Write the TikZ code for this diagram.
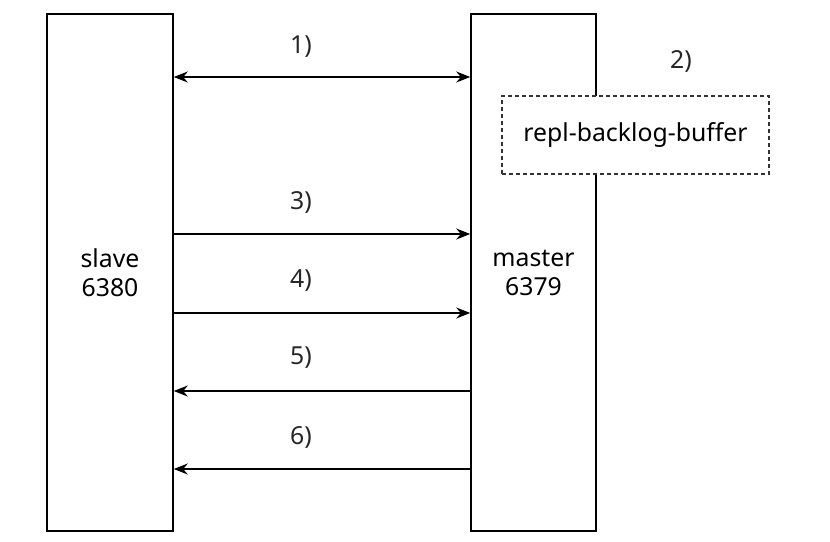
\documentclass[tikz,border=0pt]{standalone}
\usepackage{fontspec}
\setmainfont{Noto Sans}
\usetikzlibrary{arrows.meta}
\begin{document}
\begin{tikzpicture}[x=0.5pt,y=-0.5pt,
  box/.style={draw=black,line width=0.75pt,fill=white,inner sep=0pt},
  buf/.style={draw=black!80,line width=0.75pt,fill=white,inner sep=0pt,dash pattern=on 2pt off 1.5pt},
  msg/.style={line width=0.75pt,-{Stealth[length=7pt,width=5.5pt]}},
  lbl/.style={inner sep=0pt,text=black!85},
  every node/.style={font=\fontsize{12.4pt}{14.5pt}\selectfont}]
\useasboundingbox (0,0) rectangle (830,541);
\node[box,minimum width=63pt,minimum height=258.5pt,align=center] (slave) at (110,272.5) {slave\\6380};
\node[box,minimum width=62.5pt,minimum height=258.5pt,align=center] (master) at (533.5,272.5) {master\\6379};
\node[buf,minimum width=133.5pt,minimum height=39pt] (buf) at (635.5,135) {repl-backlog-buffer};
\coordinate (y1) at (0,77);
\coordinate (y3) at (0,234);
\coordinate (y4) at (0,313);
\coordinate (y5) at (0,391);
\coordinate (y6) at (0,469);
\draw[msg,{Stealth[length=7pt,width=5.5pt]}-{Stealth[length=7pt,width=5.5pt]}] (slave.east |- y1) -- (master.west |- y1);
\draw[msg] (slave.east |- y3) -- (master.west |- y3);
\draw[msg] (slave.east |- y4) -- (master.west |- y4);
\draw[msg] (master.west |- y5) -- (slave.east |- y5);
\draw[msg] (master.west |- y6) -- (slave.east |- y6);
\node[lbl] (l1) at (301,47) {1)};
\node[lbl] (l2) at (681,61) {2)};
\node[lbl] (l3) at (301,202) {3)};
\node[lbl] (l4) at (301,281) {4)};
\node[lbl] (l5) at (301,358) {5)};
\node[lbl] (l6) at (301,437) {6)};
\end{tikzpicture}
\end{document}
